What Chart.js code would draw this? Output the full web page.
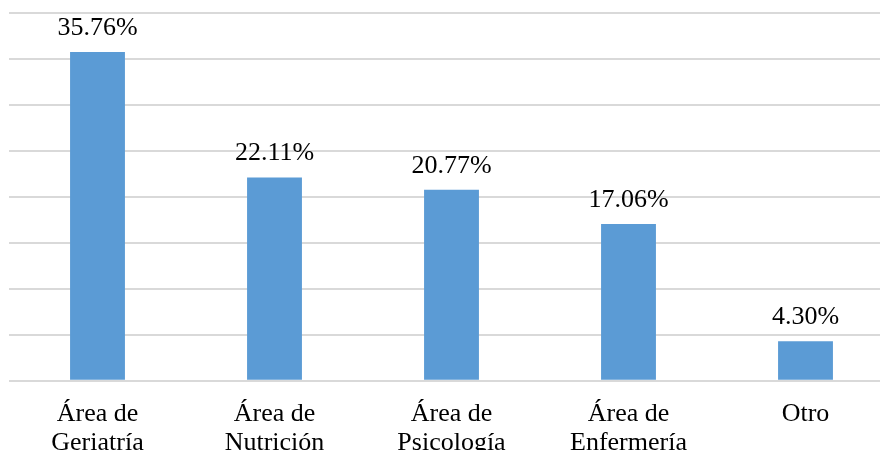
<!DOCTYPE html>
<html>
<head>
<meta charset="utf-8">
<script src="https://cdn.jsdelivr.net/npm/chart.js@4.4.1/dist/chart.umd.min.js"></script>
<style>
  html, body { margin: 0; padding: 0; background: #fff; overflow: hidden; }
  #wrap { width: 880px; height: 450px; overflow: hidden; }
  #box { width: 900px; height: 468px; }
</style>
</head>
<body>
<div id="wrap"><div id="box"><canvas id="chart"></canvas></div></div>
<script>
const categories = [
  ['Área de', 'Geriatría'],
  ['Área de', 'Nutrición'],
  ['Área de', 'Psicología'],
  ['Área de', 'Enfermería'],
  'Otro'
];
const shares = [35.76, 22.11, 20.77, 17.06, 4.30];
const yTicks = { min: 0, max: 40, step: 5 };

const serif = 'Liberation Serif, Times New Roman, serif';

// writes the percentage over each bar
const valueLabels = {
  id: 'valueLabels',
  afterDatasetsDraw(chart) {
    const ctx = chart.ctx;
    const meta = chart.getDatasetMeta(0);
    ctx.save();
    ctx.font = '26px ' + serif;
    ctx.fillStyle = '#000';
    ctx.textAlign = 'center';
    ctx.textBaseline = 'alphabetic';
    meta.data.forEach((bar, i) => {
      ctx.fillText(shares[i].toFixed(2) + '%', bar.x, bar.y - 17);
    });
    ctx.restore();
  }
};

new Chart(document.getElementById('chart'), {
  type: 'bar',
  data: {
    labels: categories,
    datasets: [{
      data: shares,
      backgroundColor: '#5b9bd5',
      categoryPercentage: 1,
      barPercentage: 0.31
    }]
  },
  options: {
    responsive: true,
    maintainAspectRatio: false,
    animation: false,
    layout: { padding: { left: 9, right: 6, top: 13, bottom: 0 } },
    plugins: { legend: { display: false }, tooltip: { enabled: false } },
    scales: {
      x: {
        grid: { display: false },
        border: { display: false },
        ticks: {
          color: '#000',
          padding: 11,
          maxRotation: 0,
          autoSkip: false,
          font: { family: serif, size: 26, lineHeight: 1.1 }
        }
      },
      y: {
        min: yTicks.min,
        max: yTicks.max,
        grid: { color: '#d9d9d9', lineWidth: 2, drawTicks: false },
        border: { display: false },
        ticks: { display: false, stepSize: yTicks.step }
      }
    }
  },
  plugins: [valueLabels]
});
</script>
</body>
</html>
